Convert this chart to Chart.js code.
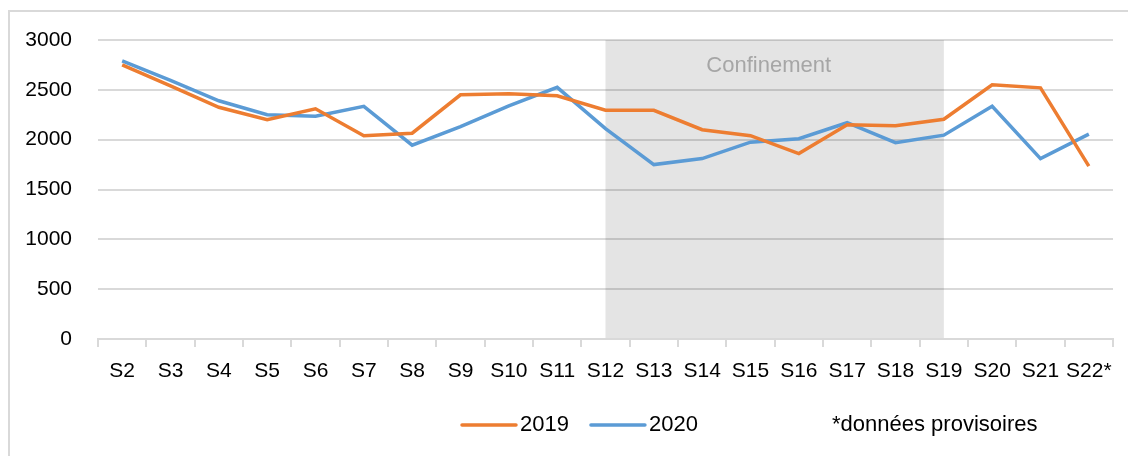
<!DOCTYPE html>
<html>
<head>
<meta charset="utf-8">
<script src="https://cdn.jsdelivr.net/npm/chart.js@4.4.1/dist/chart.umd.min.js"></script>
<style>
  html, body { margin: 0; padding: 0; background: #fff; overflow: hidden; }
  #wrap { position: relative; width: 1128px; height: 456px; }
  #frame { position: absolute; left: 8px; top: 10px; width: 1200px; height: 500px;
           border: 2px solid #d9d9d9; box-sizing: border-box; }
  canvas { position: absolute; left: 0; top: 0; }
</style>
</head>
<body>
<div id="wrap">
  <div id="frame"></div>
  <canvas id="chart" width="1128" height="456"></canvas>
</div>
<script>
/* ===============================
   DATA
=============================== */
const weeks = ["S2", "S3", "S4", "S5", "S6", "S7", "S8", "S9", "S10", "S11", "S12",
               "S13", "S14", "S15", "S16", "S17", "S18", "S19", "S20", "S21", "S22*"];
const values2019 = [2750, 2540, 2325, 2200, 2310, 2040, 2065, 2450, 2460, 2440, 2295,
                    2295, 2100, 2040, 1860, 2150, 2140, 2205, 2550, 2520, 1735];
const values2020 = [2790, 2595, 2390, 2250, 2235, 2335, 1945, 2130, 2340, 2525, 2110,
                    1750, 1810, 1975, 2010, 2170, 1970, 2045, 2335, 1810, 2055];
const yMin = 0, yMax = 3000, yStep = 500;
const lockdownLabel = "Confinement";
const lockdownFrom = "S12", lockdownTo = "S19";
const footnote = "*données provisoires";

const FONT = "'Liberation Sans', Arial, sans-serif";
const ORANGE = "#ed7d31", BLUE = "#5b9bd5";

/* ===============================
   PLUGINS
=============================== */
const lockdownBox = {
    id: "lockdownBox",
    beforeDraw(chart) {
        const { ctx, scales: { x, y } } = chart;
        const x0 = x.getPixelForValue(weeks.indexOf(lockdownFrom));
        const x1 = x.getPixelForValue(weeks.indexOf(lockdownTo));
        const y0 = y.getPixelForValue(yMax);
        const y1 = y.getPixelForValue(yMin);
        ctx.save();
        ctx.fillStyle = "#e4e4e4";
        ctx.fillRect(x0, y0, x1 - x0, y1 - y0);
        ctx.fillStyle = "#a6a6a6";
        ctx.font = "22px " + FONT;
        ctx.textAlign = "center";
        ctx.textBaseline = "middle";
        ctx.fillText(lockdownLabel, (x0 + x1) / 2 - 6, y0 + 26);
        ctx.restore();
    }
};

const bottomLegend = {
    id: "bottomLegend",
    afterDraw(chart) {
        const { ctx } = chart;
        const yMid = 425;
        let xPos = 462;
        ctx.save();
        ctx.font = "22px " + FONT;
        ctx.textBaseline = "middle";
        ctx.textAlign = "left";
        chart.data.datasets.forEach(ds => {
            ctx.strokeStyle = ds.borderColor;
            ctx.lineWidth = 3.5;
            ctx.lineCap = "round";
            ctx.beginPath();
            ctx.moveTo(xPos, yMid);
            ctx.lineTo(xPos + 54, yMid);
            ctx.stroke();
            ctx.fillStyle = "#000";
            ctx.fillText(ds.label, xPos + 58, yMid);
            xPos += 58 + ctx.measureText(ds.label).width + 22;
        });
        ctx.fillText(footnote, 832, yMid);
        ctx.restore();
    }
};

/* ===============================
   CHART
=============================== */
new Chart(document.getElementById("chart").getContext("2d"), {
    type: "line",
    data: {
        labels: weeks,
        datasets: [
            { label: "2019", data: values2019, borderColor: ORANGE, borderWidth: 3.5,
              pointRadius: 0, tension: 0, fill: false },
            { label: "2020", data: values2020, borderColor: BLUE, borderWidth: 3.5,
              pointRadius: 0, tension: 0, fill: false }
        ]
    },
    options: {
        responsive: false,
        animation: false,
        events: [],
        layout: { padding: { left: 0, right: 15, top: 40, bottom: 0 } },
        plugins: { legend: { display: false }, tooltip: { enabled: false } },
        scales: {
            x: {
                offset: true,
                grid: { offset: true, drawOnChartArea: false, drawTicks: true, tickLength: 8,
                        color: "#d9d9d9", lineWidth: 2 },
                border: { color: "#d9d9d9", width: 2 },
                ticks: { color: "#000", font: { family: FONT, size: 21 }, padding: 12,
                          maxRotation: 0, autoSkip: false },
                afterFit: s => { s.height = 117; }
            },
            y: {
                min: yMin, max: yMax,
                grid: { color: "rgba(0,0,0,0.15)", lineWidth: 2, drawTicks: false },
                border: { display: false },
                ticks: { stepSize: yStep, color: "#000", font: { family: FONT, size: 21 }, padding: 26,
                          callback: v => String(v) },
                afterFit: s => { s.width = 98; }
            }
        }
    },
    plugins: [lockdownBox, bottomLegend]
});
</script>
</body>
</html>
